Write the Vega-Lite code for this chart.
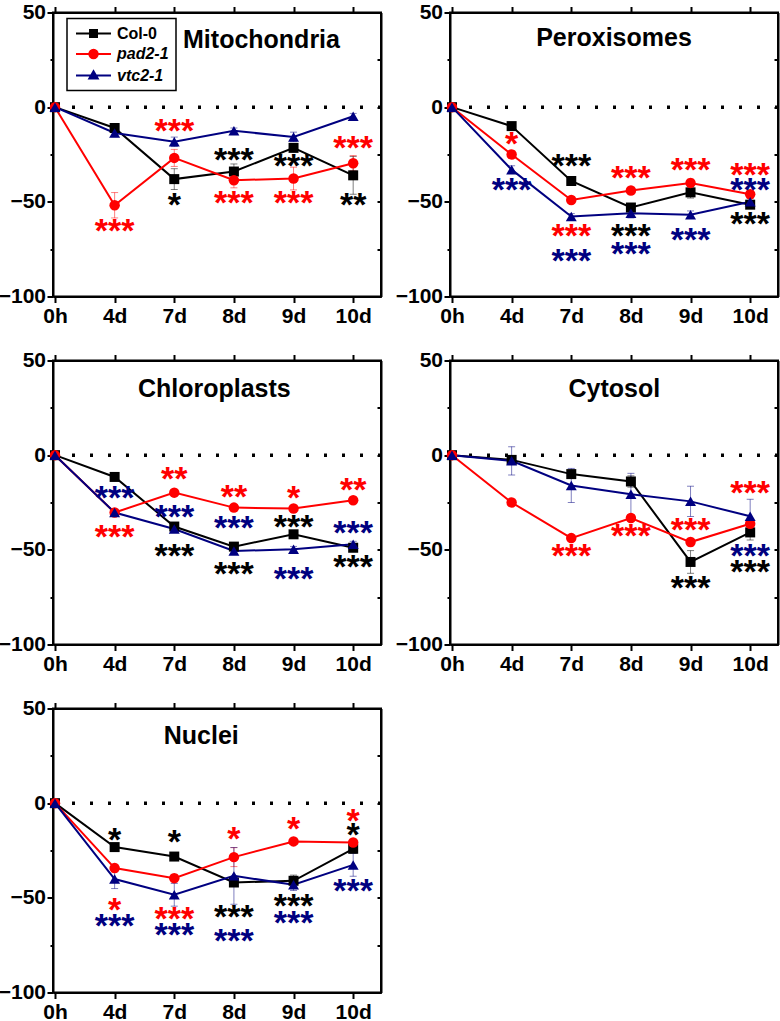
{
"$schema": "https://vega.github.io/schema/vega-lite/v6.json",
"padding": {"left": -3, "top": 0.5, "right": 0, "bottom": 0},
"columns": 2,
"spacing": {"row": 21, "column": 10},
"resolve": {"scale": {"color": "independent", "shape": "independent", "size": "independent", "fill": "independent", "stroke": "independent"}, "legend": {"color": "independent", "shape": "independent", "size": "independent", "fill": "independent", "stroke": "independent"}},
"config": {
  "view": {"stroke": "black", "strokeWidth": 2},
  "axis": {"grid": false, "domainColor": "black", "domainWidth": 2, "tickColor": "black", "tickWidth": 2, "labelColor": "black", "labelFont": "Liberation Sans", "labelFontSize": 21, "labelFontWeight": "bold"}
},
"datasets": {
  "series": [
    {"panel":"Mitochondria","t":"0h","g":"Col-0","v":0,"e":0},
    {"panel":"Mitochondria","t":"4d","g":"Col-0","v":-11,"e":2},
    {"panel":"Mitochondria","t":"7d","g":"Col-0","v":-38,"e":5.5},
    {"panel":"Mitochondria","t":"8d","g":"Col-0","v":-34,"e":4},
    {"panel":"Mitochondria","t":"9d","g":"Col-0","v":-21.5,"e":2},
    {"panel":"Mitochondria","t":"10d","g":"Col-0","v":-36,"e":10},
    {"panel":"Mitochondria","t":"0h","g":"pad2-1","v":0,"e":0},
    {"panel":"Mitochondria","t":"4d","g":"pad2-1","v":-51.8,"e":6.7},
    {"panel":"Mitochondria","t":"7d","g":"pad2-1","v":-26.8,"e":4.5},
    {"panel":"Mitochondria","t":"8d","g":"pad2-1","v":-38.6,"e":4},
    {"panel":"Mitochondria","t":"9d","g":"pad2-1","v":-37.7,"e":6},
    {"panel":"Mitochondria","t":"10d","g":"pad2-1","v":-29.6,"e":4},
    {"panel":"Mitochondria","t":"0h","g":"vtc2-1","v":0,"e":0},
    {"panel":"Mitochondria","t":"4d","g":"vtc2-1","v":-13.6,"e":2},
    {"panel":"Mitochondria","t":"7d","g":"vtc2-1","v":-18.3,"e":2.5},
    {"panel":"Mitochondria","t":"8d","g":"vtc2-1","v":-12.5,"e":1.5},
    {"panel":"Mitochondria","t":"9d","g":"vtc2-1","v":-15.7,"e":2.5},
    {"panel":"Mitochondria","t":"10d","g":"vtc2-1","v":-4.8,"e":1.5},

    {"panel":"Peroxisomes","t":"0h","g":"Col-0","v":0,"e":0},
    {"panel":"Peroxisomes","t":"4d","g":"Col-0","v":-10,"e":1.5},
    {"panel":"Peroxisomes","t":"7d","g":"Col-0","v":-39,"e":2},
    {"panel":"Peroxisomes","t":"8d","g":"Col-0","v":-53,"e":2},
    {"panel":"Peroxisomes","t":"9d","g":"Col-0","v":-45,"e":3},
    {"panel":"Peroxisomes","t":"10d","g":"Col-0","v":-51.5,"e":2},
    {"panel":"Peroxisomes","t":"0h","g":"pad2-1","v":0,"e":0},
    {"panel":"Peroxisomes","t":"4d","g":"pad2-1","v":-25,"e":2},
    {"panel":"Peroxisomes","t":"7d","g":"pad2-1","v":-49,"e":1.5},
    {"panel":"Peroxisomes","t":"8d","g":"pad2-1","v":-44,"e":1.5},
    {"panel":"Peroxisomes","t":"9d","g":"pad2-1","v":-40,"e":2},
    {"panel":"Peroxisomes","t":"10d","g":"pad2-1","v":-46,"e":2},
    {"panel":"Peroxisomes","t":"0h","g":"vtc2-1","v":0,"e":0},
    {"panel":"Peroxisomes","t":"4d","g":"vtc2-1","v":-33,"e":2},
    {"panel":"Peroxisomes","t":"7d","g":"vtc2-1","v":-57.7,"e":1.5},
    {"panel":"Peroxisomes","t":"8d","g":"vtc2-1","v":-56,"e":2.5},
    {"panel":"Peroxisomes","t":"9d","g":"vtc2-1","v":-56.8,"e":2},
    {"panel":"Peroxisomes","t":"10d","g":"vtc2-1","v":-50,"e":2},

    {"panel":"Chloroplasts","t":"0h","g":"Col-0","v":0,"e":0},
    {"panel":"Chloroplasts","t":"4d","g":"Col-0","v":-11.5,"e":1},
    {"panel":"Chloroplasts","t":"7d","g":"Col-0","v":-37.7,"e":1.5},
    {"panel":"Chloroplasts","t":"8d","g":"Col-0","v":-48.3,"e":1.5},
    {"panel":"Chloroplasts","t":"9d","g":"Col-0","v":-41.8,"e":1.5},
    {"panel":"Chloroplasts","t":"10d","g":"Col-0","v":-48.9,"e":1.5},
    {"panel":"Chloroplasts","t":"0h","g":"pad2-1","v":0,"e":0},
    {"panel":"Chloroplasts","t":"4d","g":"pad2-1","v":-30.3,"e":1.5},
    {"panel":"Chloroplasts","t":"7d","g":"pad2-1","v":-19.8,"e":1.5},
    {"panel":"Chloroplasts","t":"8d","g":"pad2-1","v":-27.7,"e":1.5},
    {"panel":"Chloroplasts","t":"9d","g":"pad2-1","v":-28.2,"e":1.5},
    {"panel":"Chloroplasts","t":"10d","g":"pad2-1","v":-23.8,"e":1.5},
    {"panel":"Chloroplasts","t":"0h","g":"vtc2-1","v":0,"e":0},
    {"panel":"Chloroplasts","t":"4d","g":"vtc2-1","v":-30.3,"e":1.5},
    {"panel":"Chloroplasts","t":"7d","g":"vtc2-1","v":-39,"e":1.5},
    {"panel":"Chloroplasts","t":"8d","g":"vtc2-1","v":-50.6,"e":1.5},
    {"panel":"Chloroplasts","t":"9d","g":"vtc2-1","v":-49.7,"e":1.5},
    {"panel":"Chloroplasts","t":"10d","g":"vtc2-1","v":-47,"e":1.5},

    {"panel":"Cytosol","t":"0h","g":"Col-0","v":0,"e":0},
    {"panel":"Cytosol","t":"4d","g":"Col-0","v":-2.5,"e":2},
    {"panel":"Cytosol","t":"7d","g":"Col-0","v":-10,"e":2},
    {"panel":"Cytosol","t":"8d","g":"Col-0","v":-13.9,"e":3},
    {"panel":"Cytosol","t":"9d","g":"Col-0","v":-56.4,"e":6},
    {"panel":"Cytosol","t":"10d","g":"Col-0","v":-40.8,"e":4},
    {"panel":"Cytosol","t":"0h","g":"pad2-1","v":0,"e":0},
    {"panel":"Cytosol","t":"4d","g":"pad2-1","v":-25,"e":1},
    {"panel":"Cytosol","t":"7d","g":"pad2-1","v":-43.8,"e":1},
    {"panel":"Cytosol","t":"8d","g":"pad2-1","v":-33.2,"e":1.5},
    {"panel":"Cytosol","t":"9d","g":"pad2-1","v":-45.9,"e":2},
    {"panel":"Cytosol","t":"10d","g":"pad2-1","v":-36.2,"e":2},
    {"panel":"Cytosol","t":"0h","g":"vtc2-1","v":0,"e":0},
    {"panel":"Cytosol","t":"4d","g":"vtc2-1","v":-3,"e":7.5},
    {"panel":"Cytosol","t":"7d","g":"vtc2-1","v":-16,"e":9},
    {"panel":"Cytosol","t":"8d","g":"vtc2-1","v":-20.6,"e":11},
    {"panel":"Cytosol","t":"9d","g":"vtc2-1","v":-24.4,"e":8},
    {"panel":"Cytosol","t":"10d","g":"vtc2-1","v":-32.3,"e":9},

    {"panel":"Nuclei","t":"0h","g":"Col-0","v":0,"e":0},
    {"panel":"Nuclei","t":"4d","g":"Col-0","v":-23.2,"e":1.5},
    {"panel":"Nuclei","t":"7d","g":"Col-0","v":-28.2,"e":1.5},
    {"panel":"Nuclei","t":"8d","g":"Col-0","v":-41.9,"e":2},
    {"panel":"Nuclei","t":"9d","g":"Col-0","v":-41,"e":3},
    {"panel":"Nuclei","t":"10d","g":"Col-0","v":-24.1,"e":2},
    {"panel":"Nuclei","t":"0h","g":"pad2-1","v":0,"e":0},
    {"panel":"Nuclei","t":"4d","g":"pad2-1","v":-34.3,"e":2},
    {"panel":"Nuclei","t":"7d","g":"pad2-1","v":-39.6,"e":2},
    {"panel":"Nuclei","t":"8d","g":"pad2-1","v":-28.5,"e":5},
    {"panel":"Nuclei","t":"9d","g":"pad2-1","v":-20.2,"e":1.5},
    {"panel":"Nuclei","t":"10d","g":"pad2-1","v":-20.8,"e":1.5},
    {"panel":"Nuclei","t":"0h","g":"vtc2-1","v":0,"e":0},
    {"panel":"Nuclei","t":"4d","g":"vtc2-1","v":-40.1,"e":5},
    {"panel":"Nuclei","t":"7d","g":"vtc2-1","v":-48.4,"e":6},
    {"panel":"Nuclei","t":"8d","g":"vtc2-1","v":-38.4,"e":15},
    {"panel":"Nuclei","t":"9d","g":"vtc2-1","v":-43.1,"e":3},
    {"panel":"Nuclei","t":"10d","g":"vtc2-1","v":-32.6,"e":6}
  ],
  "stars": [
    {"panel":"Mitochondria","t":"4d","g":"pad2-1","s":"***","y":-63},
    {"panel":"Mitochondria","t":"7d","g":"pad2-1","s":"***","y":-10},
    {"panel":"Mitochondria","t":"7d","g":"Col-0","s":"*","y":-49},
    {"panel":"Mitochondria","t":"8d","g":"Col-0","s":"***","y":-25.4},
    {"panel":"Mitochondria","t":"8d","g":"pad2-1","s":"***","y":-48},
    {"panel":"Mitochondria","t":"9d","g":"Col-0","s":"***","y":-28.5},
    {"panel":"Mitochondria","t":"9d","g":"pad2-1","s":"***","y":-48},
    {"panel":"Mitochondria","t":"10d","g":"pad2-1","s":"***","y":-19},
    {"panel":"Mitochondria","t":"10d","g":"Col-0","s":"**","y":-49},

    {"panel":"Peroxisomes","t":"4d","g":"pad2-1","s":"*","y":-16.6},
    {"panel":"Peroxisomes","t":"4d","g":"vtc2-1","s":"***","y":-41},
    {"panel":"Peroxisomes","t":"7d","g":"Col-0","s":"***","y":-28.6},
    {"panel":"Peroxisomes","t":"7d","g":"pad2-1","s":"***","y":-65.6},
    {"panel":"Peroxisomes","t":"7d","g":"vtc2-1","s":"***","y":-78.8},
    {"panel":"Peroxisomes","t":"8d","g":"pad2-1","s":"***","y":-35},
    {"panel":"Peroxisomes","t":"8d","g":"Col-0","s":"***","y":-65.6},
    {"panel":"Peroxisomes","t":"8d","g":"vtc2-1","s":"***","y":-74.8},
    {"panel":"Peroxisomes","t":"9d","g":"pad2-1","s":"***","y":-30.7},
    {"panel":"Peroxisomes","t":"9d","g":"vtc2-1","s":"***","y":-67.7},
    {"panel":"Peroxisomes","t":"10d","g":"pad2-1","s":"***","y":-33},
    {"panel":"Peroxisomes","t":"10d","g":"vtc2-1","s":"***","y":-41.3},
    {"panel":"Peroxisomes","t":"10d","g":"Col-0","s":"***","y":-59.3},

    {"panel":"Chloroplasts","t":"4d","g":"vtc2-1","s":"***","y":-19.8},
    {"panel":"Chloroplasts","t":"4d","g":"pad2-1","s":"***","y":-40.4},
    {"panel":"Chloroplasts","t":"7d","g":"pad2-1","s":"**","y":-9.7},
    {"panel":"Chloroplasts","t":"7d","g":"vtc2-1","s":"***","y":-30},
    {"panel":"Chloroplasts","t":"7d","g":"Col-0","s":"***","y":-50.6},
    {"panel":"Chloroplasts","t":"8d","g":"pad2-1","s":"**","y":-19.2},
    {"panel":"Chloroplasts","t":"8d","g":"vtc2-1","s":"***","y":-35.6},
    {"panel":"Chloroplasts","t":"8d","g":"Col-0","s":"***","y":-60},
    {"panel":"Chloroplasts","t":"9d","g":"pad2-1","s":"*","y":-19.8},
    {"panel":"Chloroplasts","t":"9d","g":"Col-0","s":"***","y":-35.1},
    {"panel":"Chloroplasts","t":"9d","g":"vtc2-1","s":"***","y":-62.6},
    {"panel":"Chloroplasts","t":"10d","g":"pad2-1","s":"**","y":-15.9},
    {"panel":"Chloroplasts","t":"10d","g":"vtc2-1","s":"***","y":-38.3},
    {"panel":"Chloroplasts","t":"10d","g":"Col-0","s":"***","y":-56.3},

    {"panel":"Cytosol","t":"7d","g":"pad2-1","s":"***","y":-50.8},
    {"panel":"Cytosol","t":"8d","g":"pad2-1","s":"***","y":-39.9},
    {"panel":"Cytosol","t":"9d","g":"pad2-1","s":"***","y":-36.7},
    {"panel":"Cytosol","t":"9d","g":"Col-0","s":"***","y":-67.5},
    {"panel":"Cytosol","t":"10d","g":"pad2-1","s":"***","y":-17.4},
    {"panel":"Cytosol","t":"10d","g":"vtc2-1","s":"***","y":-50.4},
    {"panel":"Cytosol","t":"10d","g":"Col-0","s":"***","y":-59.2},

    {"panel":"Nuclei","t":"4d","g":"Col-0","s":"*","y":-16.7},
    {"panel":"Nuclei","t":"4d","g":"pad2-1","s":"*","y":-53.7},
    {"panel":"Nuclei","t":"4d","g":"vtc2-1","s":"***","y":-62},
    {"panel":"Nuclei","t":"7d","g":"Col-0","s":"*","y":-18.1},
    {"panel":"Nuclei","t":"7d","g":"pad2-1","s":"***","y":-58.6},
    {"panel":"Nuclei","t":"7d","g":"vtc2-1","s":"***","y":-66.9},
    {"panel":"Nuclei","t":"8d","g":"pad2-1","s":"*","y":-16.4},
    {"panel":"Nuclei","t":"8d","g":"Col-0","s":"***","y":-57.7},
    {"panel":"Nuclei","t":"8d","g":"vtc2-1","s":"***","y":-69.9},
    {"panel":"Nuclei","t":"9d","g":"pad2-1","s":"*","y":-11.1},
    {"panel":"Nuclei","t":"9d","g":"Col-0","s":"***","y":-51.9},
    {"panel":"Nuclei","t":"9d","g":"vtc2-1","s":"***","y":-60.7},
    {"panel":"Nuclei","t":"10d","g":"pad2-1","s":"*","y":-7},
    {"panel":"Nuclei","t":"10d","g":"Col-0","s":"*","y":-14.1},
    {"panel":"Nuclei","t":"10d","g":"vtc2-1","s":"***","y":-43.7}
  ]
},
"concat": [
{
  "width": 328, "height": 284,
  "resolve": {"axis": {"x": "independent", "y": "independent"}, "scale": {"color": "independent", "shape": "independent", "fill": "independent", "stroke": "independent", "size": "independent"}},
  "layer": [
    {"data": {"values": [{}]}, "mark": {"type": "rule", "strokeDash": [3, 15], "strokeWidth": 3.5, "color": "black"},
     "encoding": {"y": {"datum": 0, "type": "quantitative", "scale": {"domain": [-100, 50], "nice": false, "zero": false}, "axis": null}}},
    {"data": {"name": "series"}, "transform": [{"filter": "datum.panel == 'Mitochondria' && datum.e > 0"}],
     "mark": {"type": "errorbar", "ticks": {"opacity": 0.5}, "rule": {"opacity": 0.5}, "size": 7, "thickness": 1},
     "encoding": {"x": {"field": "t", "type": "nominal", "sort": ["0h","4d","7d","8d","9d","10d"], "scale": {"type": "point", "domain": ["0h","4d","7d","8d","9d","10d"], "padding": 0.25, "align": 0.067}, "axis": null},
       "y": {"field": "v", "type": "quantitative", "scale": {"domain": [-100, 50], "nice": false, "zero": false}, "axis": null},
       "yError": {"field": "e"},
       "color": {"field": "g", "type": "nominal", "scale": {"domain": ["Col-0","pad2-1","vtc2-1"], "range": ["#000000","#FF0000","#000080"]}, "legend": null}}},
    {"data": {"name": "series"}, "transform": [{"filter": "datum.panel == 'Mitochondria'"}],
     "mark": {"type": "line", "strokeWidth": 2},
     "encoding": {"x": {"field": "t", "type": "nominal", "sort": ["0h","4d","7d","8d","9d","10d"], "scale": {"type": "point", "domain": ["0h","4d","7d","8d","9d","10d"], "padding": 0.25, "align": 0.067}, "axis": {"orient": "bottom", "title": null, "labelAngle": 0, "labelPadding": 3, "tickSize": 6}},
       "y": {"field": "v", "type": "quantitative", "scale": {"domain": [-100, 50], "nice": false, "zero": false}, "axis": {"orient": "left", "title": null, "values": [50,25,0,-25,-50,-75,-100], "labelExpr": "datum.value % 50 == 0 ? datum.label : ''", "tickSize": {"condition": {"test": "datum.value % 50 != 0", "value": 3}, "value": 6}, "labelPadding": 1.5}},
       "color": {"field": "g", "type": "nominal", "scale": {"domain": ["Col-0","pad2-1","vtc2-1"], "range": ["#000000","#FF0000","#000080"]}, "legend": null}}},
    {"data": {"name": "series"}, "transform": [{"filter": "datum.panel == 'Mitochondria'"}],
     "mark": {"type": "point", "filled": true, "opacity": 1},
     "encoding": {"x": {"field": "t", "type": "nominal", "sort": ["0h","4d","7d","8d","9d","10d"], "scale": {"type": "point", "domain": ["0h","4d","7d","8d","9d","10d"], "padding": 0.25, "align": 0.067}, "axis": {"orient": "top", "title": null, "labels": false, "tickSize": 6}},
       "y": {"field": "v", "type": "quantitative", "scale": {"domain": [-100, 50], "nice": false, "zero": false}, "axis": {"orient": "right", "title": null, "labels": false, "values": [50,25,0,-25,-50,-75,-100], "tickSize": -4}},
       "size": {"field": "g", "type": "nominal", "scale": {"domain": ["Col-0","pad2-1","vtc2-1"], "range": [100, 120, 150]}, "legend": null},
       "color": {"field": "g", "type": "nominal", "scale": {"domain": ["Col-0","pad2-1","vtc2-1"], "range": ["#000000","#FF0000","#000080"]}, "legend": null},
       "shape": {"field": "g", "type": "nominal", "scale": {"domain": ["Col-0","pad2-1","vtc2-1"], "range": ["square","circle","triangle-up"]}, "legend": null}}},
    {"data": {"name": "series"}, "transform": [{"filter": "datum.panel == 'none'"}],
     "mark": {"type": "point", "filled": true, "opacity": 1, "size": 144, "strokeWidth": 2},
     "encoding": {"x": {"field": "t", "type": "nominal", "scale": {"type": "point", "domain": ["0h","4d","7d","8d","9d","10d"], "padding": 0.25, "align": 0.067}, "axis": null},
       "y": {"field": "v", "type": "quantitative", "scale": {"domain": [-100, 50], "nice": false, "zero": false}, "axis": null},
       "fill": {"field": "g", "type": "nominal", "scale": {"domain": ["Col-0","pad2-1","vtc2-1"], "range": ["#000000","#FF0000","#000080"]},
         "legend": {"title": null, "orient": "none", "legendX": 14, "legendY": 6, "padding": 7, "rowPadding": 3.5, "strokeColor": "black", "fillColor": "white", "labelFont": "Liberation Sans", "labelFontSize": 16, "labelFontWeight": "bold", "labelColor": "black", "labelOffset": 27, "symbolSize": 144, "symbolStrokeWidth": 2, "symbolOpacity": 1,
           "encode": {"labels": {"update": {"fontStyle": {"signal": "datum.value == 'Col-0' ? 'normal' : 'italic'"}}}, "legend": {"update": {"strokeWidth": {"value": 1.5}}}}}},
       "stroke": {"field": "g", "type": "nominal", "scale": {"domain": ["Col-0","pad2-1","vtc2-1"], "range": ["#000000","#FF0000","#000080"]},
         "legend": {"title": null, "orient": "none", "legendX": 14, "legendY": 6, "padding": 7, "rowPadding": 3.5, "strokeColor": "black", "fillColor": "white", "labelFont": "Liberation Sans", "labelFontSize": 16, "labelFontWeight": "bold", "labelColor": "black", "labelOffset": 27, "symbolSize": 144, "symbolStrokeWidth": 2, "symbolOpacity": 1}},
       "shape": {"field": "g", "type": "nominal", "scale": {"domain": ["Col-0","pad2-1","vtc2-1"], "range": ["M-1,0H4.83M1.34,-0.58H2.5V0.58H1.34Z", "M-1,0H4.83M2.62,0A0.7,0.7,0,1,1,1.22,0A0.7,0.7,0,1,1,2.62,0Z", "M-1,0H4.83M1.92,-0.7L2.62,0.5H1.22Z"]},
         "legend": {"title": null, "orient": "none", "legendX": 14, "legendY": 6, "padding": 7, "rowPadding": 3.5, "strokeColor": "black", "fillColor": "white", "labelFont": "Liberation Sans", "labelFontSize": 16, "labelFontWeight": "bold", "labelColor": "black", "labelOffset": 27, "symbolSize": 144, "symbolStrokeWidth": 2, "symbolOpacity": 1}}}},
    {"data": {"name": "stars"}, "transform": [{"filter": "datum.panel == 'Mitochondria'"}],
     "mark": {"type": "text", "font": "Liberation Sans", "fontSize": 34, "fontWeight": "bold", "baseline": "middle", "align": "center", "dy": 6},
     "encoding": {"x": {"field": "t", "type": "nominal", "scale": {"type": "point", "domain": ["0h","4d","7d","8d","9d","10d"], "padding": 0.25, "align": 0.067}, "axis": null},
       "y": {"field": "y", "type": "quantitative", "scale": {"domain": [-100, 50], "nice": false, "zero": false}, "axis": null},
       "text": {"field": "s"},
       "color": {"field": "g", "type": "nominal", "scale": {"domain": ["Col-0","pad2-1","vtc2-1"], "range": ["#000000","#FF0000","#000080"]}, "legend": null}}},
    {"data": {"values": [{}]}, "mark": {"type": "text", "font": "Liberation Sans", "fontSize": 25, "fontWeight": "bold", "color": "black", "baseline": "middle", "align": "center", "dx": 27.6},
     "encoding": {"x": {"datum": "8d", "type": "nominal", "axis": null}, "y": {"datum": 35.5, "type": "quantitative", "axis": null}, "text": {"value": "Mitochondria"}}}
  ]
},
{
  "width": 328, "height": 284,
  "resolve": {"axis": {"x": "independent", "y": "independent"}},
  "layer": [
    {"data": {"values": [{}]}, "mark": {"type": "rule", "strokeDash": [3, 15], "strokeWidth": 3.5, "color": "black"},
     "encoding": {"y": {"datum": 0, "type": "quantitative", "scale": {"domain": [-100, 50], "nice": false, "zero": false}, "axis": null}}},
    {"data": {"name": "series"}, "transform": [{"filter": "datum.panel == 'Peroxisomes' && datum.e > 0"}],
     "mark": {"type": "errorbar", "ticks": {"opacity": 0.5}, "rule": {"opacity": 0.5}, "size": 7, "thickness": 1},
     "encoding": {"x": {"field": "t", "type": "nominal", "sort": ["0h","4d","7d","8d","9d","10d"], "scale": {"type": "point", "domain": ["0h","4d","7d","8d","9d","10d"], "padding": 0.25, "align": 0.067}, "axis": null},
       "y": {"field": "v", "type": "quantitative", "scale": {"domain": [-100, 50], "nice": false, "zero": false}, "axis": null},
       "yError": {"field": "e"},
       "color": {"field": "g", "type": "nominal", "scale": {"domain": ["Col-0","pad2-1","vtc2-1"], "range": ["#000000","#FF0000","#000080"]}, "legend": null}}},
    {"data": {"name": "series"}, "transform": [{"filter": "datum.panel == 'Peroxisomes'"}],
     "mark": {"type": "line", "strokeWidth": 2},
     "encoding": {"x": {"field": "t", "type": "nominal", "sort": ["0h","4d","7d","8d","9d","10d"], "scale": {"type": "point", "domain": ["0h","4d","7d","8d","9d","10d"], "padding": 0.25, "align": 0.067}, "axis": {"orient": "bottom", "title": null, "labelAngle": 0, "labelPadding": 3, "tickSize": 6}},
       "y": {"field": "v", "type": "quantitative", "scale": {"domain": [-100, 50], "nice": false, "zero": false}, "axis": {"orient": "left", "title": null, "values": [50,25,0,-25,-50,-75,-100], "labelExpr": "datum.value % 50 == 0 ? datum.label : ''", "tickSize": {"condition": {"test": "datum.value % 50 != 0", "value": 3}, "value": 6}, "labelPadding": 1.5}},
       "color": {"field": "g", "type": "nominal", "scale": {"domain": ["Col-0","pad2-1","vtc2-1"], "range": ["#000000","#FF0000","#000080"]}, "legend": null}}},
    {"data": {"name": "series"}, "transform": [{"filter": "datum.panel == 'Peroxisomes'"}],
     "mark": {"type": "point", "filled": true, "opacity": 1},
     "encoding": {"x": {"field": "t", "type": "nominal", "sort": ["0h","4d","7d","8d","9d","10d"], "scale": {"type": "point", "domain": ["0h","4d","7d","8d","9d","10d"], "padding": 0.25, "align": 0.067}, "axis": {"orient": "top", "title": null, "labels": false, "tickSize": 6}},
       "y": {"field": "v", "type": "quantitative", "scale": {"domain": [-100, 50], "nice": false, "zero": false}, "axis": {"orient": "right", "title": null, "labels": false, "values": [50,25,0,-25,-50,-75,-100], "tickSize": -4}},
       "size": {"field": "g", "type": "nominal", "scale": {"domain": ["Col-0","pad2-1","vtc2-1"], "range": [100, 120, 150]}, "legend": null},
       "color": {"field": "g", "type": "nominal", "scale": {"domain": ["Col-0","pad2-1","vtc2-1"], "range": ["#000000","#FF0000","#000080"]}, "legend": null},
       "shape": {"field": "g", "type": "nominal", "scale": {"domain": ["Col-0","pad2-1","vtc2-1"], "range": ["square","circle","triangle-up"]}, "legend": null}}},
    {"data": {"name": "stars"}, "transform": [{"filter": "datum.panel == 'Peroxisomes'"}],
     "mark": {"type": "text", "font": "Liberation Sans", "fontSize": 34, "fontWeight": "bold", "baseline": "middle", "align": "center", "dy": 6},
     "encoding": {"x": {"field": "t", "type": "nominal", "scale": {"type": "point", "domain": ["0h","4d","7d","8d","9d","10d"], "padding": 0.25, "align": 0.067}, "axis": null},
       "y": {"field": "y", "type": "quantitative", "scale": {"domain": [-100, 50], "nice": false, "zero": false}, "axis": null},
       "text": {"field": "s"},
       "color": {"field": "g", "type": "nominal", "scale": {"domain": ["Col-0","pad2-1","vtc2-1"], "range": ["#000000","#FF0000","#000080"]}, "legend": null}}},
    {"data": {"values": [{}]}, "mark": {"type": "text", "font": "Liberation Sans", "fontSize": 25, "fontWeight": "bold", "color": "black", "baseline": "middle", "align": "center", "dx": 42.7},
     "encoding": {"x": {"datum": "7d", "type": "nominal", "axis": null}, "y": {"datum": 36.5, "type": "quantitative", "axis": null}, "text": {"value": "Peroxisomes"}}}
  ]
},
{
  "width": 328, "height": 284,
  "resolve": {"axis": {"x": "independent", "y": "independent"}},
  "layer": [
    {"data": {"values": [{}]}, "mark": {"type": "rule", "strokeDash": [3, 15], "strokeWidth": 3.5, "color": "black"},
     "encoding": {"y": {"datum": 0, "type": "quantitative", "scale": {"domain": [-100, 50], "nice": false, "zero": false}, "axis": null}}},
    {"data": {"name": "series"}, "transform": [{"filter": "datum.panel == 'Chloroplasts' && datum.e > 0"}],
     "mark": {"type": "errorbar", "ticks": {"opacity": 0.5}, "rule": {"opacity": 0.5}, "size": 7, "thickness": 1},
     "encoding": {"x": {"field": "t", "type": "nominal", "sort": ["0h","4d","7d","8d","9d","10d"], "scale": {"type": "point", "domain": ["0h","4d","7d","8d","9d","10d"], "padding": 0.25, "align": 0.067}, "axis": null},
       "y": {"field": "v", "type": "quantitative", "scale": {"domain": [-100, 50], "nice": false, "zero": false}, "axis": null},
       "yError": {"field": "e"},
       "color": {"field": "g", "type": "nominal", "scale": {"domain": ["Col-0","pad2-1","vtc2-1"], "range": ["#000000","#FF0000","#000080"]}, "legend": null}}},
    {"data": {"name": "series"}, "transform": [{"filter": "datum.panel == 'Chloroplasts'"}],
     "mark": {"type": "line", "strokeWidth": 2},
     "encoding": {"x": {"field": "t", "type": "nominal", "sort": ["0h","4d","7d","8d","9d","10d"], "scale": {"type": "point", "domain": ["0h","4d","7d","8d","9d","10d"], "padding": 0.25, "align": 0.067}, "axis": {"orient": "bottom", "title": null, "labelAngle": 0, "labelPadding": 3, "tickSize": 6}},
       "y": {"field": "v", "type": "quantitative", "scale": {"domain": [-100, 50], "nice": false, "zero": false}, "axis": {"orient": "left", "title": null, "values": [50,25,0,-25,-50,-75,-100], "labelExpr": "datum.value % 50 == 0 ? datum.label : ''", "tickSize": {"condition": {"test": "datum.value % 50 != 0", "value": 3}, "value": 6}, "labelPadding": 1.5}},
       "color": {"field": "g", "type": "nominal", "scale": {"domain": ["Col-0","pad2-1","vtc2-1"], "range": ["#000000","#FF0000","#000080"]}, "legend": null}}},
    {"data": {"name": "series"}, "transform": [{"filter": "datum.panel == 'Chloroplasts'"}],
     "mark": {"type": "point", "filled": true, "opacity": 1},
     "encoding": {"x": {"field": "t", "type": "nominal", "sort": ["0h","4d","7d","8d","9d","10d"], "scale": {"type": "point", "domain": ["0h","4d","7d","8d","9d","10d"], "padding": 0.25, "align": 0.067}, "axis": {"orient": "top", "title": null, "labels": false, "tickSize": 6}},
       "y": {"field": "v", "type": "quantitative", "scale": {"domain": [-100, 50], "nice": false, "zero": false}, "axis": {"orient": "right", "title": null, "labels": false, "values": [50,25,0,-25,-50,-75,-100], "tickSize": -4}},
       "size": {"field": "g", "type": "nominal", "scale": {"domain": ["Col-0","pad2-1","vtc2-1"], "range": [100, 120, 150]}, "legend": null},
       "color": {"field": "g", "type": "nominal", "scale": {"domain": ["Col-0","pad2-1","vtc2-1"], "range": ["#000000","#FF0000","#000080"]}, "legend": null},
       "shape": {"field": "g", "type": "nominal", "scale": {"domain": ["Col-0","pad2-1","vtc2-1"], "range": ["square","circle","triangle-up"]}, "legend": null}}},
    {"data": {"name": "stars"}, "transform": [{"filter": "datum.panel == 'Chloroplasts'"}],
     "mark": {"type": "text", "font": "Liberation Sans", "fontSize": 34, "fontWeight": "bold", "baseline": "middle", "align": "center", "dy": 6},
     "encoding": {"x": {"field": "t", "type": "nominal", "scale": {"type": "point", "domain": ["0h","4d","7d","8d","9d","10d"], "padding": 0.25, "align": 0.067}, "axis": null},
       "y": {"field": "y", "type": "quantitative", "scale": {"domain": [-100, 50], "nice": false, "zero": false}, "axis": null},
       "text": {"field": "s"},
       "color": {"field": "g", "type": "nominal", "scale": {"domain": ["Col-0","pad2-1","vtc2-1"], "range": ["#000000","#FF0000","#000080"]}, "legend": null}}},
    {"data": {"values": [{}]}, "mark": {"type": "text", "font": "Liberation Sans", "fontSize": 25, "fontWeight": "bold", "color": "black", "baseline": "middle", "align": "center", "dx": 40},
     "encoding": {"x": {"datum": "7d", "type": "nominal", "axis": null}, "y": {"datum": 35.2, "type": "quantitative", "axis": null}, "text": {"value": "Chloroplasts"}}}
  ]
},
{
  "width": 328, "height": 284,
  "resolve": {"axis": {"x": "independent", "y": "independent"}},
  "layer": [
    {"data": {"values": [{}]}, "mark": {"type": "rule", "strokeDash": [3, 15], "strokeWidth": 3.5, "color": "black"},
     "encoding": {"y": {"datum": 0, "type": "quantitative", "scale": {"domain": [-100, 50], "nice": false, "zero": false}, "axis": null}}},
    {"data": {"name": "series"}, "transform": [{"filter": "datum.panel == 'Cytosol' && datum.e > 0"}],
     "mark": {"type": "errorbar", "ticks": {"opacity": 0.5}, "rule": {"opacity": 0.5}, "size": 7, "thickness": 1},
     "encoding": {"x": {"field": "t", "type": "nominal", "sort": ["0h","4d","7d","8d","9d","10d"], "scale": {"type": "point", "domain": ["0h","4d","7d","8d","9d","10d"], "padding": 0.25, "align": 0.067}, "axis": null},
       "y": {"field": "v", "type": "quantitative", "scale": {"domain": [-100, 50], "nice": false, "zero": false}, "axis": null},
       "yError": {"field": "e"},
       "color": {"field": "g", "type": "nominal", "scale": {"domain": ["Col-0","pad2-1","vtc2-1"], "range": ["#000000","#FF0000","#000080"]}, "legend": null}}},
    {"data": {"name": "series"}, "transform": [{"filter": "datum.panel == 'Cytosol'"}],
     "mark": {"type": "line", "strokeWidth": 2},
     "encoding": {"x": {"field": "t", "type": "nominal", "sort": ["0h","4d","7d","8d","9d","10d"], "scale": {"type": "point", "domain": ["0h","4d","7d","8d","9d","10d"], "padding": 0.25, "align": 0.067}, "axis": {"orient": "bottom", "title": null, "labelAngle": 0, "labelPadding": 3, "tickSize": 6}},
       "y": {"field": "v", "type": "quantitative", "scale": {"domain": [-100, 50], "nice": false, "zero": false}, "axis": {"orient": "left", "title": null, "values": [50,25,0,-25,-50,-75,-100], "labelExpr": "datum.value % 50 == 0 ? datum.label : ''", "tickSize": {"condition": {"test": "datum.value % 50 != 0", "value": 3}, "value": 6}, "labelPadding": 1.5}},
       "color": {"field": "g", "type": "nominal", "scale": {"domain": ["Col-0","pad2-1","vtc2-1"], "range": ["#000000","#FF0000","#000080"]}, "legend": null}}},
    {"data": {"name": "series"}, "transform": [{"filter": "datum.panel == 'Cytosol'"}],
     "mark": {"type": "point", "filled": true, "opacity": 1},
     "encoding": {"x": {"field": "t", "type": "nominal", "sort": ["0h","4d","7d","8d","9d","10d"], "scale": {"type": "point", "domain": ["0h","4d","7d","8d","9d","10d"], "padding": 0.25, "align": 0.067}, "axis": {"orient": "top", "title": null, "labels": false, "tickSize": 6}},
       "y": {"field": "v", "type": "quantitative", "scale": {"domain": [-100, 50], "nice": false, "zero": false}, "axis": {"orient": "right", "title": null, "labels": false, "values": [50,25,0,-25,-50,-75,-100], "tickSize": -4}},
       "size": {"field": "g", "type": "nominal", "scale": {"domain": ["Col-0","pad2-1","vtc2-1"], "range": [100, 120, 150]}, "legend": null},
       "color": {"field": "g", "type": "nominal", "scale": {"domain": ["Col-0","pad2-1","vtc2-1"], "range": ["#000000","#FF0000","#000080"]}, "legend": null},
       "shape": {"field": "g", "type": "nominal", "scale": {"domain": ["Col-0","pad2-1","vtc2-1"], "range": ["square","circle","triangle-up"]}, "legend": null}}},
    {"data": {"name": "stars"}, "transform": [{"filter": "datum.panel == 'Cytosol'"}],
     "mark": {"type": "text", "font": "Liberation Sans", "fontSize": 34, "fontWeight": "bold", "baseline": "middle", "align": "center", "dy": 6},
     "encoding": {"x": {"field": "t", "type": "nominal", "scale": {"type": "point", "domain": ["0h","4d","7d","8d","9d","10d"], "padding": 0.25, "align": 0.067}, "axis": null},
       "y": {"field": "y", "type": "quantitative", "scale": {"domain": [-100, 50], "nice": false, "zero": false}, "axis": null},
       "text": {"field": "s"},
       "color": {"field": "g", "type": "nominal", "scale": {"domain": ["Col-0","pad2-1","vtc2-1"], "range": ["#000000","#FF0000","#000080"]}, "legend": null}}},
    {"data": {"values": [{}]}, "mark": {"type": "text", "font": "Liberation Sans", "fontSize": 25, "fontWeight": "bold", "color": "black", "baseline": "middle", "align": "center", "dx": 43},
     "encoding": {"x": {"datum": "7d", "type": "nominal", "axis": null}, "y": {"datum": 34.7, "type": "quantitative", "axis": null}, "text": {"value": "Cytosol"}}}
  ]
},
{
  "width": 328, "height": 284,
  "resolve": {"axis": {"x": "independent", "y": "independent"}},
  "layer": [
    {"data": {"values": [{}]}, "mark": {"type": "rule", "strokeDash": [3, 15], "strokeWidth": 3.5, "color": "black"},
     "encoding": {"y": {"datum": 0, "type": "quantitative", "scale": {"domain": [-100, 50], "nice": false, "zero": false}, "axis": null}}},
    {"data": {"name": "series"}, "transform": [{"filter": "datum.panel == 'Nuclei' && datum.e > 0"}],
     "mark": {"type": "errorbar", "ticks": {"opacity": 0.5}, "rule": {"opacity": 0.5}, "size": 7, "thickness": 1},
     "encoding": {"x": {"field": "t", "type": "nominal", "sort": ["0h","4d","7d","8d","9d","10d"], "scale": {"type": "point", "domain": ["0h","4d","7d","8d","9d","10d"], "padding": 0.25, "align": 0.067}, "axis": null},
       "y": {"field": "v", "type": "quantitative", "scale": {"domain": [-100, 50], "nice": false, "zero": false}, "axis": null},
       "yError": {"field": "e"},
       "color": {"field": "g", "type": "nominal", "scale": {"domain": ["Col-0","pad2-1","vtc2-1"], "range": ["#000000","#FF0000","#000080"]}, "legend": null}}},
    {"data": {"name": "series"}, "transform": [{"filter": "datum.panel == 'Nuclei'"}],
     "mark": {"type": "line", "strokeWidth": 2},
     "encoding": {"x": {"field": "t", "type": "nominal", "sort": ["0h","4d","7d","8d","9d","10d"], "scale": {"type": "point", "domain": ["0h","4d","7d","8d","9d","10d"], "padding": 0.25, "align": 0.067}, "axis": {"orient": "bottom", "title": null, "labelAngle": 0, "labelPadding": 3, "tickSize": 6}},
       "y": {"field": "v", "type": "quantitative", "scale": {"domain": [-100, 50], "nice": false, "zero": false}, "axis": {"orient": "left", "title": null, "values": [50,25,0,-25,-50,-75,-100], "labelExpr": "datum.value % 50 == 0 ? datum.label : ''", "tickSize": {"condition": {"test": "datum.value % 50 != 0", "value": 3}, "value": 6}, "labelPadding": 1.5}},
       "color": {"field": "g", "type": "nominal", "scale": {"domain": ["Col-0","pad2-1","vtc2-1"], "range": ["#000000","#FF0000","#000080"]}, "legend": null}}},
    {"data": {"name": "series"}, "transform": [{"filter": "datum.panel == 'Nuclei'"}],
     "mark": {"type": "point", "filled": true, "opacity": 1},
     "encoding": {"x": {"field": "t", "type": "nominal", "sort": ["0h","4d","7d","8d","9d","10d"], "scale": {"type": "point", "domain": ["0h","4d","7d","8d","9d","10d"], "padding": 0.25, "align": 0.067}, "axis": {"orient": "top", "title": null, "labels": false, "tickSize": 6}},
       "y": {"field": "v", "type": "quantitative", "scale": {"domain": [-100, 50], "nice": false, "zero": false}, "axis": {"orient": "right", "title": null, "labels": false, "values": [50,25,0,-25,-50,-75,-100], "tickSize": -4}},
       "size": {"field": "g", "type": "nominal", "scale": {"domain": ["Col-0","pad2-1","vtc2-1"], "range": [100, 120, 150]}, "legend": null},
       "color": {"field": "g", "type": "nominal", "scale": {"domain": ["Col-0","pad2-1","vtc2-1"], "range": ["#000000","#FF0000","#000080"]}, "legend": null},
       "shape": {"field": "g", "type": "nominal", "scale": {"domain": ["Col-0","pad2-1","vtc2-1"], "range": ["square","circle","triangle-up"]}, "legend": null}}},
    {"data": {"name": "stars"}, "transform": [{"filter": "datum.panel == 'Nuclei'"}],
     "mark": {"type": "text", "font": "Liberation Sans", "fontSize": 34, "fontWeight": "bold", "baseline": "middle", "align": "center", "dy": 6},
     "encoding": {"x": {"field": "t", "type": "nominal", "scale": {"type": "point", "domain": ["0h","4d","7d","8d","9d","10d"], "padding": 0.25, "align": 0.067}, "axis": null},
       "y": {"field": "y", "type": "quantitative", "scale": {"domain": [-100, 50], "nice": false, "zero": false}, "axis": null},
       "text": {"field": "s"},
       "color": {"field": "g", "type": "nominal", "scale": {"domain": ["Col-0","pad2-1","vtc2-1"], "range": ["#000000","#FF0000","#000080"]}, "legend": null}}},
    {"data": {"values": [{}]}, "mark": {"type": "text", "font": "Liberation Sans", "fontSize": 25, "fontWeight": "bold", "color": "black", "baseline": "middle", "align": "center", "dx": 27},
     "encoding": {"x": {"datum": "7d", "type": "nominal", "axis": null}, "y": {"datum": 35.3, "type": "quantitative", "axis": null}, "text": {"value": "Nuclei"}}}
  ]
}
]
}
